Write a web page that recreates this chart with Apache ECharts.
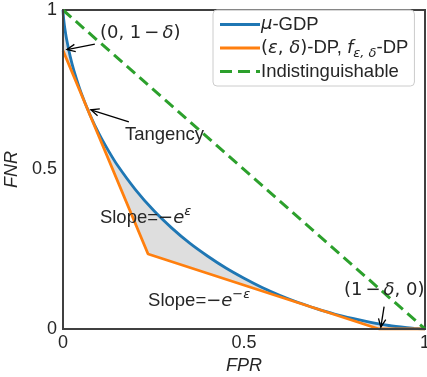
<!DOCTYPE html>
<html>
<head>
<meta charset="utf-8">
<script src="https://cdn.jsdelivr.net/npm/echarts@6/dist/echarts.min.js"></script>
<style>
  html, body { margin: 0; padding: 0; background: #fff; }
  #chart { width: 427px; height: 377px; }
</style>
</head>
<body>
<div id="chart"></div>
<script>
// mu-GDP trade-off curve
const fprGdp = [0, 0.001, 0.003, 0.005, 0.01, 0.02, 0.03, 0.05, 0.075, 0.1, 0.125, 0.15, 0.2, 0.25, 0.3, 0.35, 0.4, 0.45, 0.5, 0.55, 0.6, 0.65, 0.7, 0.75, 0.8, 0.85, 0.9, 0.95, 0.97, 0.99, 1];
const fnrGdp = [1, 0.982, 0.960, 0.943, 0.908, 0.854, 0.811, 0.741, 0.670, 0.611, 0.560, 0.514, 0.437, 0.372, 0.317, 0.269, 0.228, 0.191, 0.159, 0.130, 0.105, 0.083, 0.064, 0.047, 0.033, 0.021, 0.011, 0.004, 0.002, 0.0005, 0];
// (eps, delta)-DP piecewise linear curve
const fprDp = [0, 0.235, 0.873, 1];
const fnrDp = [0.873, 0.235, 0, 0];
// perfectly indistinguishable diagonal
const fprDiag = [0, 1];
const fnrDiag = [1, 0];
const tickLabels = ["0", "0.5", "1"];

// annotations: [text, x, y] in data units; arrows: [tailX, tailY, headX, headY]
const notes = [
  ["{p|(0, 1}{m|−}{i|δ}{p|)}", 0.102, 0.928],
  ["{t|Tangency}", 0.171, 0.608],
  ["{t|Slope=}{m2|−}{i|e}{sup|ε}", 0.102, 0.348],
  ["{t|Slope=}{m2|−}{i|e}{sup|−ε}", 0.235, 0.088],
  ["{p|(1}{m|−}{i|δ}{p|, 0)}", 0.776, 0.122],
];
const arrows = [
  [0.088, 0.893, 0.011, 0.876],
  [0.182, 0.649, 0.077, 0.687],
  [0.887, 0.07, 0.878, 0.006],
];

const BLUE = "#1f77b4", ORANGE = "#ff7f0e", GREEN = "#2ca02c";
const TXT = "#262626";
const pairs = (xs, ys) => xs.map((x, i) => [x, ys[i]]);

const rich = {
  t: { fontFamily: "Liberation Sans", fontSize: 18.5, color: TXT },
  p: { fontFamily: "DejaVu Sans", fontSize: 18, color: TXT },
  m: { fontFamily: "DejaVu Sans", fontSize: 18, color: TXT, padding: [0, 3, 0, 3] },
  m2: { fontFamily: "DejaVu Sans", fontSize: 18, color: TXT },
  i: { fontFamily: "DejaVu Sans", fontStyle: "italic", fontSize: 18, color: TXT },
  sup: { fontFamily: "DejaVu Sans", fontStyle: "italic", fontSize: 13, color: TXT, verticalAlign: "top", lineHeight: 26 },
  sub: { fontFamily: "DejaVu Sans", fontStyle: "italic", fontSize: 13, color: TXT, verticalAlign: "bottom", lineHeight: 24 },
};

const solidIcon = "path://M0,0h40v3h-40z";
const dashIcon = "path://M0,0h12v3h-12z M18,0h12v3h-12z M36,0h4v3h-4z";

const chart = echarts.init(document.getElementById("chart"));

const axisCommon = {
  type: "value",
  min: 0,
  max: 1,
  interval: 0.5,
  z: 10,
  axisLine: { show: true, lineStyle: { color: "#404040", width: 2 } },
  axisTick: { show: false },
  splitLine: { show: false },
  axisLabel: {
    color: TXT,
    fontFamily: "Liberation Sans",
    fontSize: 18,
    formatter: (v) => tickLabels[Math.round(v * 2)],
  },
  nameLocation: "middle",
  nameTextStyle: { color: TXT, fontFamily: "Liberation Sans", fontSize: 18, fontStyle: "italic" },
};

const option = {
  animation: false,
  grid: {
    left: 63, right: 2, top: 10, bottom: 48,
    outerBoundsMode: "none",
    containLabel: false,
    show: true, borderColor: "#404040", borderWidth: 2,
  },
  xAxis: { ...axisCommon, name: "FPR", nameGap: 24,
    axisLabel: { ...axisCommon.axisLabel, margin: 5 } },
  yAxis: { ...axisCommon, name: "FNR", nameGap: 37,
    axisLabel: { ...axisCommon.axisLabel, margin: 6 } },
  legend: {
    orient: "vertical",
    left: 213,
    top: 10,
    padding: [4, 6, 4, 7],
    itemWidth: 40,
    itemHeight: 3,
    itemGap: 1,
    backgroundColor: "rgba(255,255,255,0.85)",
    borderColor: "#cccccc",
    borderWidth: 1,
    borderRadius: 4,
    data: [
      { name: "mu", icon: solidIcon },
      { name: "dp", icon: solidIcon },
      { name: "ind", icon: dashIcon },
    ],
    formatter: (name) => ({
      mu: "{i|μ}{t|-GDP}",
      dp: "{p|(}{i|ε}{p|, }{i|δ}{p|)}{t|-DP, }{i|f}{sub|ε, δ}{t|-DP}",
      ind: "{t|Indistinguishable}",
    })[name],
    textStyle: { color: TXT, fontSize: 18, lineHeight: 21, padding: [0, 0, 0, -4], rich: rich },
  },
  series: [
    // gray fill between the two curves: gray under GDP curve, white under DP curve
    { type: "line", data: pairs(fprGdp, fnrGdp), symbol: "none", silent: true,
      smooth: 0.2, lineStyle: { width: 0 }, areaStyle: { color: "#dedede", opacity: 1 }, z: 1 },
    { type: "line", data: pairs(fprDp, fnrDp), symbol: "none", silent: true,
      lineStyle: { width: 0 }, areaStyle: { color: "#ffffff", opacity: 1 }, z: 1 },
    { name: "mu", type: "line", data: pairs(fprGdp, fnrGdp), symbol: "none", smooth: 0.2,
      lineStyle: { color: BLUE, width: 2.8 }, itemStyle: { color: BLUE }, z: 3 },
    { name: "dp", type: "line", data: pairs(fprDp, fnrDp), symbol: "none",
      lineStyle: { color: ORANGE, width: 2.8 }, itemStyle: { color: ORANGE }, z: 4 },
    { name: "ind", type: "line", data: pairs(fprDiag, fnrDiag), symbol: "none",
      lineStyle: { color: GREEN, width: 3, type: [11, 6] }, itemStyle: { color: GREEN }, z: 5 },
  ],
};

chart.setOption(option);

// annotations placed through the grid's own scales
const px = (x, y) => chart.convertToPixel({ gridIndex: 0 }, [x, y]);
const graphics = [];
notes.forEach(([text, x, y]) => {
  const [gx, gy] = px(x, y);
  graphics.push({
    type: "text", x: gx, y: gy, z: 20,
    style: { text: text, rich: rich, align: "left", verticalAlign: "middle", fill: TXT },
  });
});
arrows.forEach(([x1, y1, x2, y2]) => {
  const [ax, ay] = px(x1, y1);
  const [bx, by] = px(x2, y2);
  const ang = Math.atan2(by - ay, bx - ax);
  const L = 9, spread = 0.42;
  graphics.push({
    type: "polyline", z: 20,
    shape: { points: [[ax, ay], [bx, by]] },
    style: { stroke: "#000", lineWidth: 1.3, fill: null },
  });
  graphics.push({
    type: "polyline", z: 20,
    shape: { points: [
      [bx - L * Math.cos(ang - spread), by - L * Math.sin(ang - spread)],
      [bx, by],
      [bx - L * Math.cos(ang + spread), by - L * Math.sin(ang + spread)],
    ] },
    style: { stroke: "#000", lineWidth: 1.3, fill: null },
  });
});
chart.setOption({ graphic: graphics });
</script>
</body>
</html>
